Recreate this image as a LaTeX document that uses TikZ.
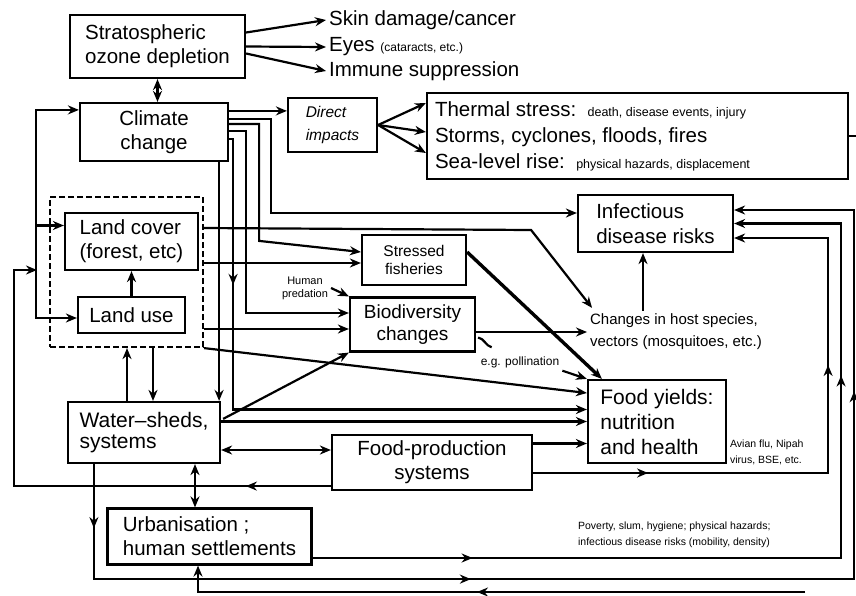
\documentclass[tikz,border=0pt]{standalone}
\usepackage{fontspec}
\setmainfont{Liberation Sans}
\usetikzlibrary{arrows.meta, positioning, calc, decorations.markings}

\begin{document}
\begin{tikzpicture}[x=1pt,y=-1pt,->,>={Stealth[length=11pt,width=9pt]},line width=2.2pt,
    box/.style={draw,fill=white,inner sep=3pt,font=\fontsize{20.5}{24}\selectfont},
    txt/.style={inner sep=2pt,font=\fontsize{20.5}{24}\selectfont},
    arrowat/.style={postaction={decorate,decoration={markings,mark=at position #1 with {\arrow{>}}}}}]
  \useasboundingbox (0,0) rectangle (856,595);

  % boxes
  \node[box,minimum width=175pt,minimum height=63pt,align=flush left] (ozone) at (157.5,46.5) {Stratospheric\\ozone depletion};
  \node[txt,anchor=west] (skin) at (326,20) {Skin damage/cancer};
  \node[txt,anchor=west] (eyes) at (326,47) {Eyes {\fontsize{12}{14}\selectfont (cataracts, etc.)}};
  \node[txt,anchor=west] (immune) at (326,71) {Immune suppression};
  \node[box,minimum width=148pt,minimum height=58pt,align=center] (climate) at (154,132) {Climate\\change};
  \node[box,minimum width=89pt,minimum height=54pt,align=flush left,font=\fontsize{15.5}{23}\selectfont\itshape] (direct) at (332.5,125) {Direct\\impacts};
  \node[box,text width=405pt,inner xsep=8pt,minimum height=86pt,align=flush left,font=\fontsize{20.5}{26}\selectfont] (thermal) at (637.5,136)
    {Thermal stress:\ \ {\fontsize{12.5}{14}\selectfont death, disease events, injury}\\
     Storms, cyclones, floods, fires\\
     Sea-level rise:\ \ {\fontsize{12.5}{14}\selectfont physical hazards, displacement}};
  \node[box,minimum width=155pt,minimum height=57pt,align=flush left,font=\fontsize{20.5}{25}\selectfont] (infect) at (655.5,223.5) {Infectious\\disease risks};

  \node[draw,dashed,dash pattern=on 6pt off 3pt,minimum width=153pt,minimum height=150pt] (land) at (126.5,272) {};
  \node[box,minimum width=133pt,minimum height=57pt,align=flush left] (landcover) at (131.5,241.5) {Land cover\\(forest, etc)};
  \node[box,minimum width=107pt,minimum height=36pt] (landuse) at (131.5,315) {Land use};

  \node[box,minimum width=104pt,minimum height=50pt,align=center,font=\fontsize{15.5}{18}\selectfont] (fish) at (414,260) {Stressed\\fisheries};
  \node[box,minimum width=125pt,minimum height=54pt,align=center,font=\fontsize{19}{22}\selectfont] (bio) at (412.5,324.5) {Biodiversity\\changes};
  \node[txt,align=center,font=\fontsize{11}{13}\selectfont] (pred) at (305,288) {Human\\predation};
  \node[txt,align=flush left,font=\fontsize{15}{22}\selectfont] (host) at (676,332) {Changes in host species,\\vectors (mosquitoes, etc.)};
  \node[txt,font=\fontsize{12}{14}\selectfont] (poll) at (520,362) {e.g. pollination};
  \node[box,minimum width=138pt,minimum height=83pt,align=flush left,font=\fontsize{21}{25}\selectfont] (food) at (657,421.5) {Food yields:\\nutrition\\and health};
  \node[box,minimum width=152pt,minimum height=61pt,align=flush left,font=\fontsize{21}{21}\selectfont] (water) at (144,432.5) {Water--sheds,\\systems};
  \node[box,minimum width=200pt,minimum height=55pt,align=center] (foodprod) at (432,462.5) {Food-production\\systems};
  \node[box,minimum width=204pt,minimum height=56pt,align=flush left] (urban) at (209.5,536.5) {Urbanisation ;\\human settlements};
  \node[txt,anchor=west,align=flush left,font=\fontsize{10.5}{16}\selectfont] (avian) at (727,452) {Avian flu, Nipah\\virus, BSE, etc.};
  \node[txt,anchor=west,align=flush left,font=\fontsize{10.5}{16}\selectfont] (poverty) at (575,535) {Poverty, slum, hygiene; physical hazards;\\infectious disease risks (mobility, density)};

  % ozone
  \draw ($(ozone.east)+(0,-14)$) -- (skin.west);
  \draw (ozone.east) -- (eyes.west);
  \draw ($(ozone.east)+(0,7)$) -- (immune.west);
  \draw[<->] (ozone.south) -- (ozone.south |- climate.north);

  % climate
  \coordinate (c0) at ($(climate.north east)+(0,9)$);
  \draw (c0) -- (c0 -| direct.west);
  \draw (direct.east) -- ($(thermal.west)+(0,-33)$);
  \draw (direct.east) -- ($(thermal.west)+(0,-4)$);
  \draw (direct.east) -- ($(thermal.west)+(0,17)$);
  \draw[-] (thermal.east) -- ++(9,0);
  \draw ($(climate.north east)+(0,17)$) -- ++(42,0) |- ($(infect.west)+(0,-10.5)$);
  \draw ($(climate.north east)+(0,22)$) -- ++(30,0) -- ++(0,117) -- ($(fish.west)+(0,-8)$);
  \draw ($(climate.north east)+(0,29)$) -- ++(17,0) |- ($(bio.west)+(0,-11.5)$);
  \draw[arrowat=150pt] ($(climate.north east)+(0,37)$) -- ++(4,0) |- ($(food.west)+(0,-12)$);
  \coordinate (cs) at ($(climate.south east)+(-10,0)$);
  \draw (cs) -- (cs |- water.north);

  % left side
  \draw[<->] ($(landuse.west)+(0,3)$) -- ++(-41,0) |- ($(climate.north west)+(0,8)$);
  \draw ($(landcover.west)+(-28,-16)$) -- ($(landcover.west)+(0,-16)$);
  \coordinate (lj) at (37,270);
  \draw[arrowat=85pt] ($(foodprod.south west)+(0,-5)$) -- ++(-317,0) |- (lj);
  \draw (landuse.north) -- (landcover.south);

  % land
  \draw ($(land.east)+(0,-44)$) -- ++(327,2) -- ($(host.north west)+(5,-3)$);
  \draw ($(land.east)+(0,-9)$) -- ($(fish.west)+(0,3)$);
  \draw ($(land.east)+(0,57)$) -- ($(bio.west)+(0,4.5)$);
  \draw (land.south east) -- ($(food.west)+(0,-28.5)$);

  % biodiversity
  \draw (pred.east) -- (bio.north west);
  \draw (bio.east |- host.west) -- (host.west);
  \draw[-] ($(bio.east)+(2,13)$) to[out=-10,in=165] ($(poll.north west)+(14,-6)$);
  \draw (poll.south east) -- (food.north west);
  \draw[line width=3.4pt] ($(fish.east)+(0,-8)$) -- ($(food.north west)+(15,0)$);
  \coordinate (hn) at ($(host.north)+(-33,0)$);
  \draw (hn) -- (hn |- infect.south);

  % water-sheds
  \coordinate (wa) at ($(water.north)+(-17,0)$);
  \draw (wa) -- (wa |- land.south);
  \coordinate (wb) at ($(water.north)+(9,0)$);
  \draw (wb |- land.south) -- (wb);
  \draw ($(water.north east)+(2,18)$) -- (bio.south west);
  \draw (water.north east |- food.west) -- (food.west);
  \coordinate (wf) at ($(water.east)+(0,17.5)$);
  \draw[<->] (wf) -- (wf -| foodprod.west);
  \coordinate (wu) at ($(water.south)+(51,0)$);
  \draw[<->] (wu) -- (wu |- urban.north);
  \draw[arrowat=64pt,arrowat=492pt,arrowat=1063pt] ($(water.south west)+(27,0)$) -- ++(0,115) -| ($(infect.east)+(120,-13.5)$) -- ($(infect.east)+(0,-13.5)$);

  % food production, urbanisation
  \draw ($(foodprod.east)+(0,-19)$) -- ($(food.west)+(0,22)$);
  \draw[arrowat=115pt,arrowat=403pt] ($(foodprod.east)+(0,10.5)$) -- ++(295,0) |- ($(infect.east)+(0,14.5)$);
  \draw[arrowat=160pt,arrowat=711pt] ($(urban.east)+(0,21.5)$) -- ++(528.5,0) |- (infect.east);
  \coordinate (bl) at (805,592);
  \draw[arrowat=328pt] (bl) -| ($(urban.south)+(-11.5,0)$);
\end{tikzpicture}
\end{document}
